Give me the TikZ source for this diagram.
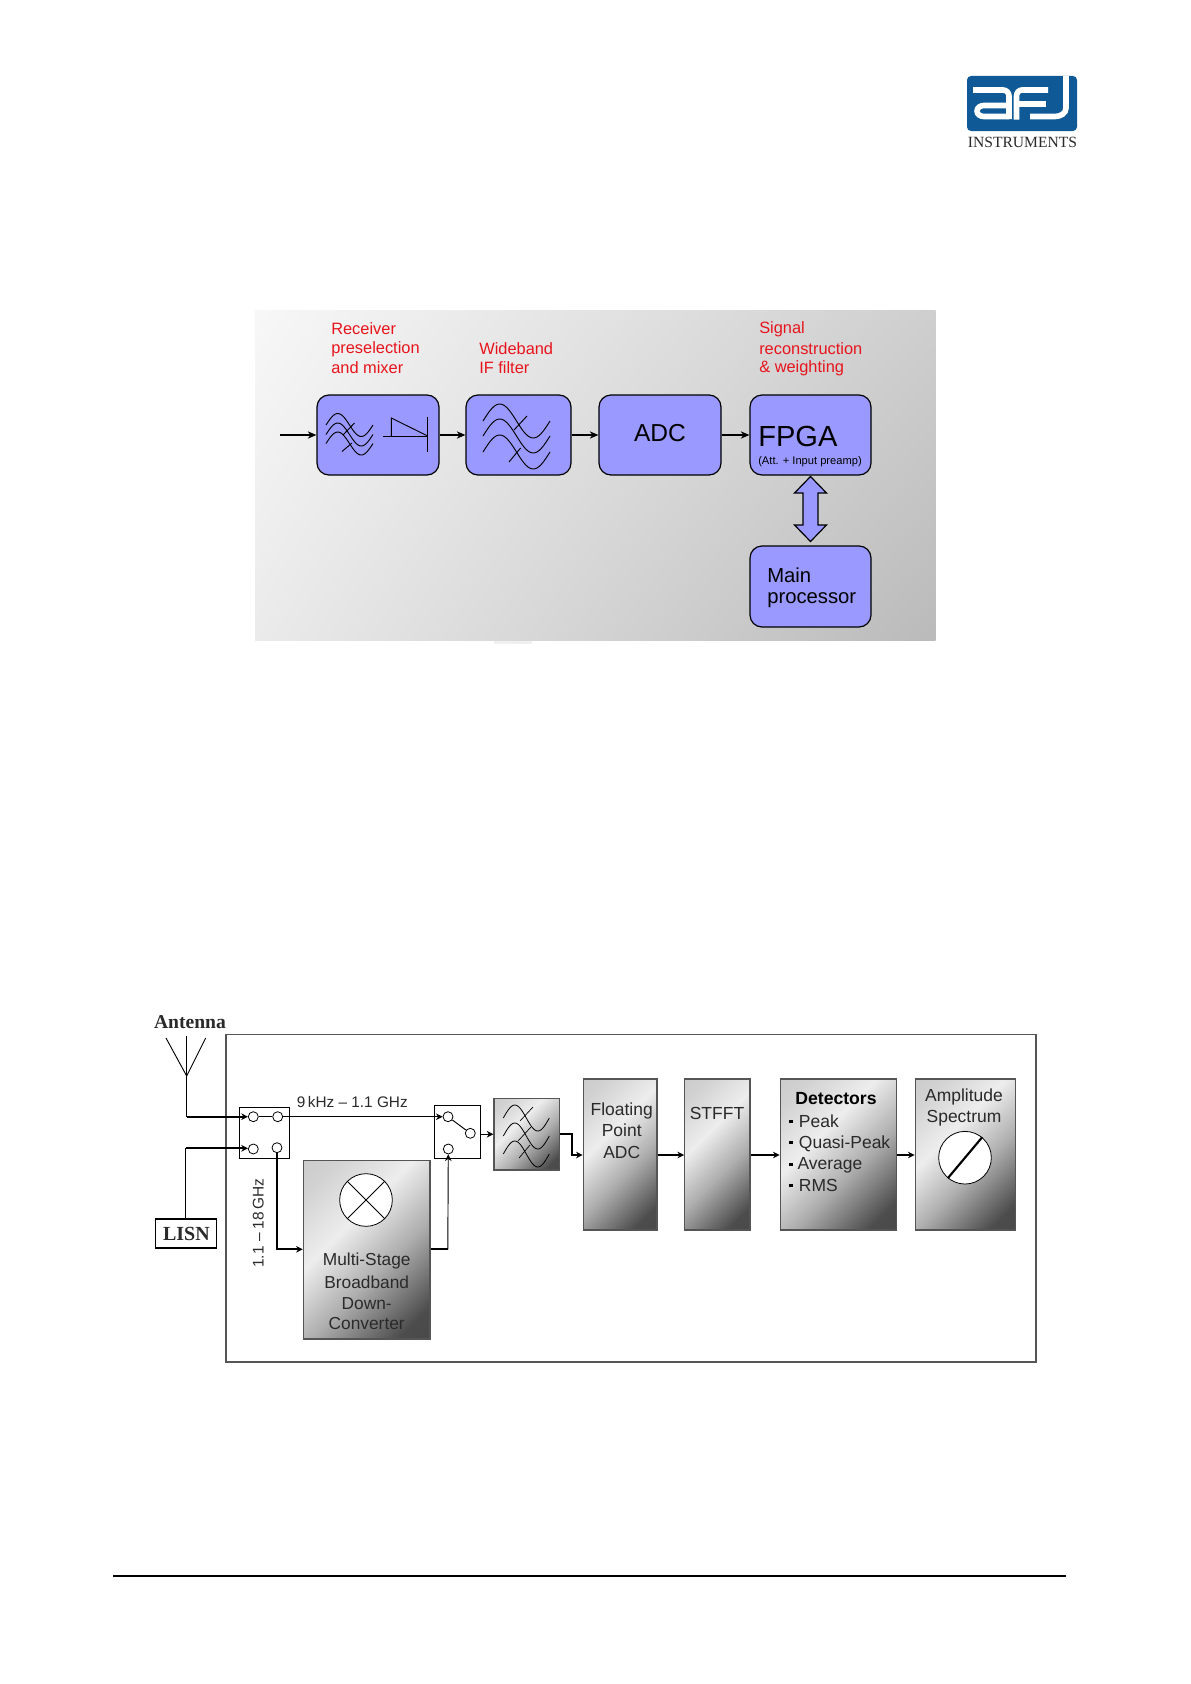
\documentclass[tikz,border=0pt]{standalone}
\usepackage{fontspec}
\setmainfont{Liberation Sans}
\newfontfamily\serifb{Liberation Serif}
\usetikzlibrary{arrows.meta,calc,shadings}
\definecolor{boxblue}{HTML}{9999FF}
\definecolor{logoblue}{HTML}{0F5A96}
\definecolor{redtxt}{HTML}{E8141C}
\definecolor{linegrey}{HTML}{555555}
\definecolor{txtgrey}{HTML}{2A2A2A}
\pgfdeclareverticalshading{metal}{100bp}{color(0bp)=(black!74); color(22bp)=(black!70); color(42bp)=(black!32); color(60bp)=(black!7); color(78bp)=(black!18); color(100bp)=(black!24)}
\newcommand{\fsz}[1]{\fontsize{#1}{#1}\selectfont}
\newcommand{\wave}[5]{% x0, yc, period, amplitude, line width
  \draw[black,line width=#5] plot[domain=0:360,samples=37,smooth] ({#1+(\x/360)*#3},{#2-#4*sin(\x)});}
\tikzset{
  x=0.75pt,y=-0.75pt,
  bluebox/.style={draw=black,line width=0.9pt,fill=boxblue,rounded corners=9pt,inner sep=0pt},
  metalbox/.style={draw=linegrey,line width=1pt,shading=metal,shading angle=45,inner sep=0pt},
  redlabel/.style={text=redtxt,align=left,anchor=west,inner sep=0pt,font=\fsz{12.3pt}},
  plainarrow/.style={-{Stealth[length=6.5pt,width=5.5pt]},line width=0.9pt,black},
  thinline/.style={line width=0.7pt,black},
  thickline/.style={line width=1.4pt,black},
  thickarrow/.style={-{Stealth[length=5pt,width=5pt]},line width=1.4pt,black},
  thinarrow/.style={-{Stealth[length=5pt,width=5pt]},line width=0.7pt,black},
  port/.style={circle,draw=black,line width=0.6pt,fill=white,minimum size=7.5pt,inner sep=0pt},
  swbox/.style={draw=black,line width=0.7pt,fill=white,inner sep=0pt},
  dlabel/.style={anchor=west,inner sep=0pt,text=txtgrey,font=\fsz{13.1pt}},
  clabel/.style={inner sep=0pt,text=txtgrey,font=\fsz{13.1pt}},
  bullet/.style={fill=black,minimum size=2.6pt,inner sep=0pt},
  logoline/.style={white,line width=4.2pt}
}
\begin{document}
\begin{tikzpicture}
\useasboundingbox (0,0) rectangle (1190,1684);
\fill[white] (0,0) rectangle (1190,1684);
% logo
\fill[logoblue,rounded corners=3pt] (967,76) rectangle (1077,131);
\draw[logoline] (973,90) -- (1003,90) to[out=0,in=90] (1009,96) -- (1009,119);
\draw[logoline] (1009,116.5) -- (984,116.5) to[out=180,in=-90] (977,111) to[out=90,in=180] (984,105.5) -- (1009,105.5);
\draw[logoline] (1048,90) -- (1022,90) to[out=180,in=90] (1016.5,96) -- (1016.5,119.5);
\draw[logoline] (1016.5,104) -- (1046,104);
\draw[logoline] (1066,76) -- (1066,108) to[out=-90,in=0] (1055,116.5) -- (1030,116.5);
\node[inner sep=0pt,text=txtgrey] (instr) at (1022.5,142) {\serifb\fsz{11.7pt}INSTRUMENTS};
% top diagram
\fill[black!6] (494,640) rectangle (532,644);
\shade[upper left=black!3,upper right=black!19,lower left=black!8,lower right=black!27] (255,310.4) rectangle (935.5,640);
\node[bluebox,minimum width=91.5pt,minimum height=60pt] (recv) at (378,435) {};
\node[bluebox,minimum width=78.75pt,minimum height=60pt] (wide) at (518.5,435) {};
\node[bluebox,minimum width=91.5pt,minimum height=60pt] (adc) at (660,435) {};
\node[bluebox,minimum width=90.75pt,minimum height=60pt] (fpga) at (810.5,435) {};
\node[bluebox,minimum width=90.75pt,minimum height=60.75pt] (main) at (810.5,586.5) {};
\node[inner sep=0pt,font=\fsz{18.4pt}] (adct) at (660,433) {ADC};
\node[anchor=west,inner sep=0pt,font=\fsz{21.8pt}] (fpgat) at (758,436) {FPGA};
\node[anchor=west,inner sep=0pt,font=\fsz{8.35pt}] (fpgas) at (758,461.5) {(Att. + Input preamp)};
\node[anchor=west,inner sep=0pt,font=\fsz{15.2pt}] (maint) at (767,575) {Main};
\node[anchor=west,inner sep=0pt,font=\fsz{15.2pt}] (maint2) at (767,600) {processor};
\node[redlabel] (l1a) at (331,329) {Receiver};
\node[redlabel] (l1b) at (331,349) {preselection};
\node[redlabel] (l1c) at (331,368) {and mixer};
\node[redlabel] (l2a) at (479,349) {Wideband};
\node[redlabel] (l2b) at (479,368) {IF filter};
\node[redlabel] (l3a) at (759,329.5) {Signal};
\node[redlabel] (l3b) at (759,349) {reconstruction};
\node[redlabel] (l3c) at (759,368.5) {\& weighting};
\coordinate (inp) at (280,435);
\draw[plainarrow] (inp) -- (recv);
\draw[plainarrow] (recv) -- (wide);
\draw[plainarrow] (wide) -- (adc);
\draw[plainarrow] (adc) -- (fpga);
\foreach \o in {0,9.5,18.5} {\wave{326}{425+\o}{47}{11.5}{0.7pt}}
\foreach \o in {0,15,31} {\wave{483}{421+\o}{67}{17}{0.7pt}}
\draw[thinline] (354.5,423) -- (343,435) (352,443) -- (342,451.5);
\draw[thinline] (527,416) -- (514,430) (520.6,448) -- (509,462);
\draw[thinline] (391.3,436) -- (391.3,418) -- (427.7,436);
\draw[thinline] (383,436) -- (427.7,436);
\draw[thinline] (427.7,417) -- (427.7,452);
\draw[line width=0.9pt,fill=boxblue,line join=miter] (810.5,476.5) -- (826.5,493) -- (818,493) -- (818,525) -- (826.5,525) -- (810.5,541.5) -- (794.5,525) -- (803,525) -- (803,493) -- (794.5,493) -- cycle;
% bottom diagram
\draw[linegrey,line width=0.95pt] (226,1034.7) rectangle (1036,1362);
\node[inner sep=0pt,text=txtgrey] (ant) at (190,1022) {\serifb\bfseries\fsz{14.7pt}Antenna};
\node[draw=black,line width=0.8pt,fill=white,minimum width=45.75pt,minimum height=21.75pt,inner sep=0pt,text=txtgrey] (lisn) at (186.4,1233.5) {\serifb\bfseries\fsz{15pt}LISN};
\node[swbox,minimum width=37.7pt,minimum height=38pt] (sw1) at (264.2,1133) {};
\node[swbox,minimum width=34.2pt,minimum height=40pt] (sw2) at (457.5,1131.7) {};
\node[port] (p1) at (253.3,1116.7) {};
\node[port] (p2) at (277.7,1116.7) {};
\node[port] (p3) at (253.3,1149) {};
\node[port] (p4) at (277,1147.7) {};
\node[port] (q1) at (448,1116.7) {};
\node[port] (q2) at (470.3,1133.3) {};
\node[port] (q3) at (448.3,1149) {};
\node[metalbox,minimum width=95pt,minimum height=133.6pt] (conv) at (366.7,1249.8) {};
\node[metalbox,minimum width=49pt,minimum height=53.8pt] (filt) at (526.7,1134.2) {};
\node[metalbox,minimum width=55.3pt,minimum height=113.2pt] (fadc) at (620.2,1154.5) {};
\node[metalbox,minimum width=49pt,minimum height=113.2pt] (stfft) at (717.4,1154.5) {};
\node[metalbox,minimum width=87.3pt,minimum height=113.2pt] (det) at (838.5,1154.5) {};
\node[metalbox,minimum width=75.3pt,minimum height=113.2pt] (amp) at (965.5,1154.5) {};
% mixer
\node[circle,draw=black,line width=0.6pt,fill=white,minimum size=39.5pt,inner sep=0pt] (mix) at (366,1200) {};
\draw[thinline] (mix.45) -- (mix.225) (mix.135) -- (mix.-45);
\node[circle,draw=black,line width=0.6pt,fill=white,minimum size=39.5pt,inner sep=0pt] (disp) at (965,1157.7) {};
\draw[line width=1.6pt,black] (disp.-130) -- (disp.50);
% antenna
\coordinate (antj) at (186.7,1076);
\coordinate (antb) at (186.7,1116.7);
\coordinate (lisnb) at (185.7,1148.3);
\draw[thinline] (166,1038) -- (antj) -- (205.7,1038);
\draw[thinline] (186.7,1036) -- (antb);
\draw[thickarrow] (antb) -- (p1);
\draw[thinline] (lisn.north -| lisnb) -- (lisnb);
\draw[thickarrow] (lisnb) -- (p3.west |- lisnb);
\draw[thinline] (p1) -- (p2);
\draw[thinarrow] (p2) -- (q1);
\draw[thinline] (q1) -- (q2);
\coordinate (c1) at (277,1249.3);
\draw[thickarrow] (p4) -- (c1) -- (conv.west |- c1);
\coordinate (c2) at (447.8,1249.3);
\draw[thickline] (conv.east |- c2) -- (c2);
\draw[thinarrow] (c2) -- (q3);
\draw[thinarrow] (sw2.east |- filt) -- (filt);
\coordinate (c3) at (571.7,1134);
\coordinate (c4) at (571.7,1155);
\draw[thickarrow] (filt.east |- c3) -- (c3) -- (c4) -- (fadc.west |- c4);
\draw[thickarrow] (fadc.east |- c4) -- (stfft.west |- c4);
\draw[thickarrow] (stfft.east |- c4) -- (det.west |- c4);
\draw[thickarrow] (det.east |- c4) -- (amp.west |- c4);
% filter glyph
\foreach \o in {0,18,36} {\wave{503.3}{1118+\o}{46}{13}{0.6pt}}
\draw[thinline,line width=0.5pt] (533,1107) -- (520,1121) (531,1127) -- (518,1141) (530,1145) -- (519,1158);
% labels
\node[inner sep=0pt,text=txtgrey,font=\fsz{11.5pt}] (lab1) at (352.3,1101.7) {9\,kHz -- 1.1 GHz};
\node[inner sep=0pt,text=txtgrey,font=\fsz{11.6pt},rotate=90] (lab2) at (258.3,1223) {1.1 -- 18\,GHz};
\node[clabel,font=\fsz{13pt}] (t1) at (366.7,1261.5) {Multi-Stage};
\node[clabel,font=\fsz{13pt}] (t2) at (366.7,1282.3) {Broadband};
\node[clabel,font=\fsz{13pt}] (t3) at (366.7,1303.3) {Down-};
\node[clabel,font=\fsz{13pt}] (t4) at (366.7,1324) {Converter};
\node[clabel] (f1) at (621.7,1110.5) {Floating};
\node[clabel] (f2) at (621.7,1130.3) {Point};
\node[clabel] (f3) at (621.7,1152) {ADC};
\node[clabel] (s1) at (717,1113.3) {STFFT};
\node[clabel,text=black,font=\fsz{13.2pt}\bfseries] (d0) at (836,1099) {Detectors};
\node[dlabel] (d1) at (798.7,1121.7) {Peak};
\node[dlabel] (d2) at (798.7,1143.5) {Quasi-Peak};
\node[dlabel] (d3) at (797.3,1165.5) {Average};
\node[dlabel] (d4) at (798.7,1185.7) {RMS};
\foreach \y/\n in {1121.7/a,1142.7/b,1164.3/c,1185.7/d} {\node[bullet] (bul\n) at (791,\y) {};}
\node[clabel] (a1) at (964,1097) {Amplitude};
\node[clabel] (a2) at (964,1118) {Spectrum};
% footer rule
\coordinate (ruleL) at (113,1576);
\coordinate (ruleR) at (1066,1576);
\draw[black,line width=0.9pt] (ruleL) -- (ruleR);
\end{tikzpicture}
\end{document}
